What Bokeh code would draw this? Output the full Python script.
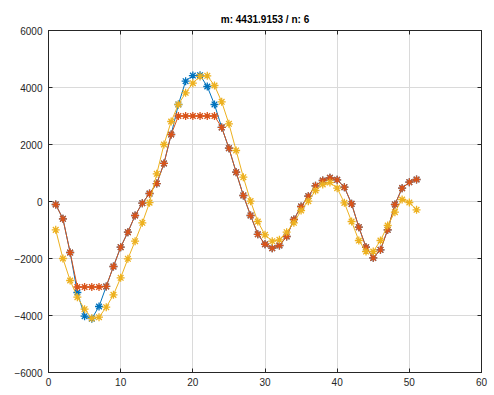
from bokeh.plotting import figure
from bokeh.models import LinearAxis, Range1d, FixedTicker, Title
from bokeh.embed import file_html
from bokeh.resources import INLINE

title_text = "m: 4431.9153 / n: 6"

x = list(range(1, 52))

blue = [-105, -608, -1790, -3193, -4024, -4110, -3684, -2980, -2281, -1603,
        -1076, -491, -59, 280, 630, 1335, 2351, 3404, 4222, 4420,
        4431.9153, 4035, 3404, 2600, 1870, 1029, 211, -491, -1150, -1500,
        -1638, -1544, -1228, -632, -175, 187, 550, 737, 831, 761,
        503, -82, -901, -1603, -1977, -1696, -994, -105, 468, 678, 772]

red = [-105, -608, -1790, -3000, -3000, -3000, -3000, -2980, -2281, -1603,
       -1076, -491, -59, 280, 630, 1335, 2351, 3000, 3000, 3000,
       3000, 3000, 3000, 2600, 1870, 1029, 211, -491, -1150, -1500,
       -1638, -1544, -1228, -632, -175, 187, 550, 737, 831, 761,
       503, -82, -901, -1603, -1977, -1696, -994, -105, 468, 678, 772]

yellow = [-995, -2000, -2772, -3358, -3779, -4100, -4060, -3708, -3275, -2678,
          -2011, -1392, -748, -40, 971, 2000, 2807, 3404, 3814, 4152,
          4390, 4410, 4070, 3498, 2726, 1790, 853, 12, -702, -1170,
          -1392, -1345, -1076, -748, -316, 12, 386, 597, 667, 468,
          -47, -702, -1369, -1755, -1755, -1369, -842, -374, 70, -35, -292]

x_ticks = [0, 10, 20, 30, 40, 50, 60]
y_ticks = [-6000, -4000, -2000, 0, 2000, 4000, 6000]

AX = "#262626"
FONT = "Liberation Sans"

p = figure(width=490, height=392, output_backend="svg", toolbar_location=None,
           x_range=Range1d(0, 60), y_range=Range1d(-6000, 6000),
           x_axis_location=None, y_axis_location=None,
           min_border_left=48, min_border_right=9, min_border_top=30, min_border_bottom=20)

p.title = Title(text=title_text, align="center", text_font=FONT,
                text_font_size="10px", text_font_style="bold", text_color="#000000",
                standoff=12)

p.outline_line_color = AX
p.outline_line_width = 1
p.background_fill_color = "white"
p.border_fill_color = "white"

def make_axis(ticks, labels=True):
    ax = LinearAxis(ticker=FixedTicker(ticks=ticks))
    ax.axis_line_color = AX
    ax.major_tick_line_color = AX
    ax.major_tick_in = 4
    ax.major_tick_out = 0
    ax.minor_tick_line_color = None
    ax.major_label_text_font = FONT
    if labels:
        ax.major_label_text_font_size = "10px"
        ax.major_label_text_color = AX
        ax.major_label_standoff = 6
    else:
        ax.major_label_text_font_size = "0px"
        ax.major_label_text_color = None
        ax.major_label_standoff = 0
    return ax

bx = make_axis(x_ticks)
bx.major_label_standoff = 5
p.add_layout(bx, "below")
p.add_layout(make_axis(y_ticks), "left")
p.add_layout(make_axis(x_ticks, labels=False), "above")
p.add_layout(make_axis(y_ticks, labels=False), "right")

p.xgrid.ticker = FixedTicker(ticks=x_ticks)
p.ygrid.ticker = FixedTicker(ticks=y_ticks)
for g in (p.xgrid, p.ygrid):
    g.grid_line_color = "#dadada"
    g.grid_line_width = 1

for ys, col in ((blue, "#0072BD"), (red, "#D95319"), (yellow, "#EDB120")):
    p.line(x, ys, line_color=col, line_width=1)
    p.scatter(x, ys, marker="asterisk", size=8, line_color=col, line_width=1.3)

open("out.html", "w").write(file_html(p, INLINE))
